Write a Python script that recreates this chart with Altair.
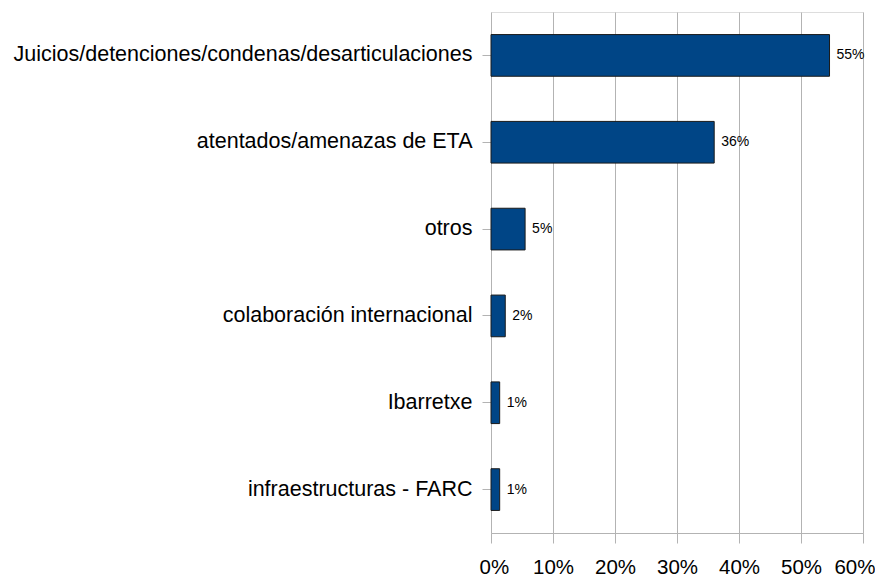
import altair as alt
import pandas as pd

categories = [
    "Juicios/detenciones/condenas/desarticulaciones",
    "atentados/amenazas de ETA",
    "otros",
    "colaboración internacional",
    "Ibarretxe",
    "infraestructuras - FARC",
]
values = [54.6, 36.0, 5.5, 2.3, 1.4, 1.4]
labels = ["55%", "36%", "5%", "2%", "1%", "1%"]

df = pd.DataFrame({"cat": categories, "val": [v / 100 for v in values], "lab": labels})

y_enc = alt.Y(
    "cat:N",
    sort=categories,
    title=None,
    scale=alt.Scale(paddingInner=0.52, paddingOuter=0.26),
    axis=alt.Axis(
        labelFont="Liberation Sans",
        labelFontSize=21.5,
        labelColor="#000000",
        labelPadding=10,
        labelLimit=700,
        tickSize=9,
        tickColor="#b3b3b3",
        domain=False,
        grid=False,
    ),
)

x_enc = alt.X(
    "val:Q",
    title=None,
    scale=alt.Scale(domain=[0, 0.6], nice=False),
    axis=alt.Axis(
        format=".0%",
        values=[0, 0.1, 0.2, 0.3, 0.4, 0.5, 0.6],
        labelFont="Liberation Sans",
        labelFontSize=20.5,
        labelColor="#000000",
        labelPadding=14,
        labelFlush=True,
        labelFlushOffset=12,
        labelOverlap=False,
        tickSize=10,
        tickColor="#b3b3b3",
        domainColor="#b3b3b3",
        gridColor="#b3b3b3",
        grid=True,
    ),
)

bars = alt.Chart(df).mark_bar(
    color="#004586", stroke="#1a1a1a", strokeWidth=1
).encode(x=x_enc, y=y_enc)

text = alt.Chart(df).mark_text(
    align="left", baseline="middle", dx=7, font="Liberation Sans", fontSize=14, color="#000000"
).encode(x=alt.X("val:Q"), y=alt.Y("cat:N", sort=categories), text="lab:N")

chart = (
    (bars + text)
    .properties(width=372, height=521, padding={"left": 5, "top": 4, "right": 0, "bottom": 0})
    .configure_view(stroke=None)
    .configure(background="white")
)

chart.save("out.html", embed_options={"renderer": "svg", "actions": False})
